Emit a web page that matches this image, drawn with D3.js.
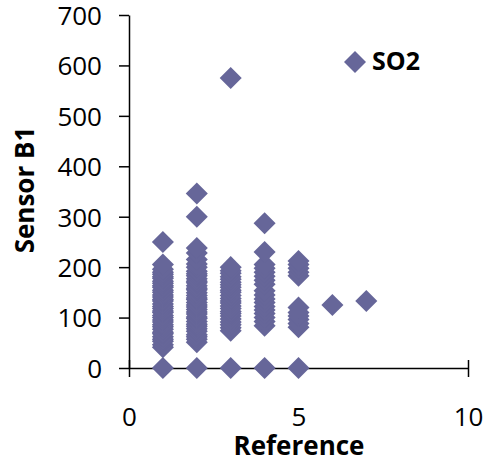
<!DOCTYPE html>
<html>
<head>
<meta charset="utf-8">
<script src="https://cdn.jsdelivr.net/npm/d3@7"></script>
<style>
  html, body { margin: 0; padding: 0; background: #fff; }
  svg { display: block; }
  text { font-family: "Open Sans", "Liberation Sans", sans-serif; fill: #000; }
</style>
</head>
<body>
<svg id="chart" width="488" height="463"></svg>
<script>
// SO2: sensor B1 readings grouped by reference value
const reference1 = [0, 41, 46, 53, 57, 62, 68, 71, 77, 82, 86, 91, 95, 100, 104, 110, 113, 118, 122, 127, 133, 136, 141, 145, 150, 154, 160, 163, 168, 172, 178, 181, 186, 190, 196, 205, 250];
const reference2 = [0, 51, 57, 62, 66, 73, 78, 83, 87, 92, 98, 101, 107, 111, 116, 121, 125, 130, 136, 139, 144, 149, 155, 158, 163, 169, 172, 177, 183, 187, 192, 200, 206, 215, 228, 238, 300, 346];
const reference3 = [0, 74, 80, 86, 91, 97, 103, 108, 112, 118, 123, 129, 133, 138, 144, 150, 154, 160, 165, 170, 176, 181, 188, 193, 200, 575];
const reference4 = [0, 84, 92, 100, 108, 115, 122, 130, 137, 145, 153, 166, 174, 182, 190, 198, 205, 230, 287];
const reference5 = [0, 81, 88, 96, 103, 110, 120, 183, 190, 198, 205, 212];
const reference6 = [125];
const reference7 = [133];

const referenceLevels = [1, 2, 3, 4, 5, 6, 7];
const sensorSeries = [reference1, reference2, reference3, reference4, reference5, reference6, reference7];

const xTicks = [0, 5, 10];
const yTicks = [0, 100, 200, 300, 400, 500, 600, 700];
const seriesName = "SO2";
const xTitle = "Reference";
const yTitle = "Sensor B1";

const points = [];
referenceLevels.forEach((r, i) => sensorSeries[i].forEach(v => points.push({ x: r, y: v })));

const svg = d3.select("#chart");
const markerColor = "#666699";

const x = d3.scaleLinear().domain([0, 10]).range([129, 468]);
const y = d3.scaleLinear().domain([0, 700]).range([368, 15]);

// Y axis: outward ticks
const yAxis = svg.append("g")
  .attr("transform", `translate(${x(0)},0)`)
  .call(d3.axisLeft(y).tickValues(yTicks).tickSize(10).tickSizeOuter(0).tickPadding(17));
yAxis.select(".domain").attr("stroke", "#000").attr("stroke-width", 1.5);
yAxis.selectAll(".tick line").attr("stroke", "#000").attr("stroke-width", 1.5);
yAxis.selectAll(".tick text")
  .style("font-size", "26px")
  .attr("dy", "0.36em");

// X axis: ticks cross the axis line
const xAxis = svg.append("g")
  .attr("transform", `translate(0,${y(0)})`)
  .call(d3.axisBottom(x).tickValues(xTicks).tickSize(9).tickSizeOuter(0));
xAxis.select(".domain").attr("stroke", "#000").attr("stroke-width", 1.5);
xAxis.selectAll(".tick line").attr("stroke", "#000").attr("stroke-width", 1.5).attr("y1", -8);
xAxis.selectAll(".tick text")
  .style("font-size", "26px")
  .attr("y", 58)
  .attr("dy", 0);

// Markers
const diamond = d3.symbol().type(d3.symbolSquare).size(243);
svg.append("g")
  .selectAll("path")
  .data(points)
  .join("path")
  .attr("d", diamond)
  .attr("fill", markerColor)
  .attr("transform", d => `translate(${x(d.x)},${y(d.y)}) rotate(45)`);

// Axis titles
svg.append("text")
  .attr("x", 299)
  .attr("y", 455)
  .attr("text-anchor", "middle")
  .style("font-size", "26px")
  .style("font-weight", "bold")
  .text(xTitle);

svg.append("text")
  .attr("transform", "translate(34,190) rotate(-90)")
  .attr("text-anchor", "middle")
  .style("font-size", "26px")
  .style("font-weight", "bold")
  .text(yTitle);

// Legend
const legend = svg.append("g").attr("transform", "translate(355,62)");
legend.append("path").attr("d", diamond).attr("fill", markerColor).attr("transform", "rotate(45)");
legend.append("text")
  .attr("x", 17)
  .attr("y", 8)
  .style("font-size", "25px")
  .style("font-weight", "bold")
  .text(seriesName);
</script>
</body>
</html>
